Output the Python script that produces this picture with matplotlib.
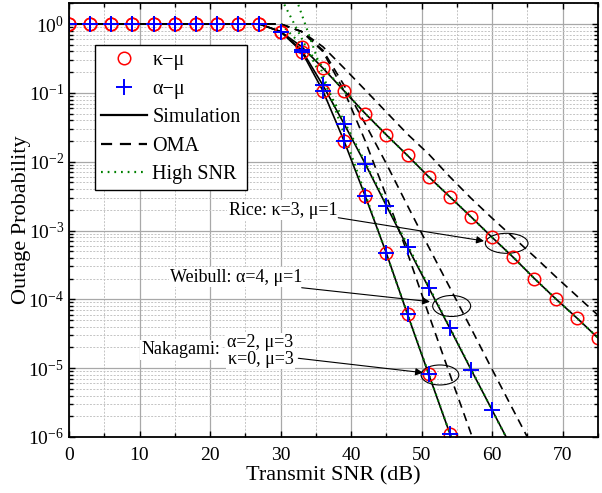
import numpy as np
import matplotlib
matplotlib.use("Agg")
import matplotlib.pyplot as plt
from matplotlib.lines import Line2D
from matplotlib.patches import Ellipse
from matplotlib.ticker import LogLocator, MultipleLocator

plt.rcParams['font.family'] = ['Liberation Serif', 'DejaVu Serif']
plt.rcParams['mathtext.fontset'] = 'custom'
plt.rcParams['mathtext.rm'] = 'Liberation Serif'
plt.rcParams['mathtext.it'] = 'Liberation Serif:italic'
plt.rcParams['axes.unicode_minus'] = False

# Transmit SNR (dB), every 3 dB
snr = np.arange(0, 76, 3)
flat = [1.0] * 10  # 0..27 dB

# NOMA simulation / analysis
rice = flat + [0.776, 0.468, 0.229, 0.107, 0.0501, 0.0245, 0.0123, 6.03e-3, 3.09e-3,
               1.58e-3, 7.94e-4, 4.07e-4, 2.00e-4, 1.02e-4, 5.37e-5, 2.75e-5]
weibull = flat + [0.776, 0.417, 0.129, 0.0355, 9.33e-3, 2.29e-3, 5.75e-4, 1.48e-4,
                  3.80e-5, 9.55e-6, 2.45e-6, 6.3e-7]
nakagami = flat + [0.776, 0.398, 0.107, 0.0200, 3.16e-3, 4.68e-4, 6.03e-5, 8.13e-6,
                   1.12e-6, 1.5e-7]

# OMA
rice_oma = flat + [1.0, 0.776, 0.468, 0.229, 0.110, 0.0525, 0.0251, 0.0129, 6.03e-3,
                   2.95e-3, 1.51e-3, 7.94e-4, 4.17e-4, 2.14e-4, 1.12e-4, 5.89e-5]
weibull_oma = flat + [1.0, 0.776, 0.417, 0.129, 0.0355, 9.33e-3, 2.29e-3, 5.75e-4,
                      1.48e-4, 3.80e-5, 9.55e-6, 2.45e-6, 6.3e-7]
nakagami_oma = flat + [1.0, 0.776, 0.398, 0.107, 0.0200, 3.16e-3, 4.68e-4, 6.03e-5,
                       8.13e-6, 1.12e-6, 1.5e-7]

# High SNR approximations, from 30 dB
snr_hi = np.arange(30, 76, 3)
rice_hi = [1.0, 0.50, 0.24, 0.107, 0.0501, 0.0245, 0.0123, 6.03e-3, 3.09e-3, 1.58e-3,
           7.94e-4, 4.07e-4, 2.00e-4, 1.02e-4, 5.37e-5, 2.75e-5]
weibull_hi = [2.45, 0.617, 0.155, 0.0389, 9.77e-3, 2.45e-3, 6.17e-4, 1.55e-4, 3.89e-5,
              9.77e-6, 2.45e-6, 6.2e-7]
nakagami_hi = [10.2, 1.38, 0.186, 0.0251, 3.39e-3, 4.57e-4, 6.17e-5, 8.32e-6, 1.12e-6,
               1.5e-7]

fig = plt.figure(figsize=(6.02, 4.93), dpi=100)
ax = fig.add_axes([0.1146, 0.1136, 0.8787, 0.8797])

lw = 1.2
for y in (rice_oma, weibull_oma, nakagami_oma):
    ax.plot(snr[:len(y)], y, color='k', lw=lw, dashes=(5, 3.5))
for y in (rice, weibull, nakagami):
    ax.plot(snr[:len(y)], y, color='k', lw=lw)
for y in (rice_hi, weibull_hi, nakagami_hi):
    ax.plot(snr_hi[:len(y)], y, color='#008000', lw=1.5, dashes=(0.8, 2.2))

mk_c = dict(ls='none', marker='o', ms=9, mfc='none', mec='red', mew=1.1)
mk_p = dict(ls='none', marker='+', ms=11, mec='blue', mew=1.4)
ax.plot(snr[:len(rice)], rice, **mk_c)
ax.plot(snr[:len(nakagami)], nakagami, **mk_c)
ax.plot(snr[:len(weibull)], weibull, **mk_p)
ax.plot(snr[:len(nakagami)], nakagami, **mk_p)

ax.set_yscale('log')
ax.set_xlim(0, 75)
ax.set_ylim(1e-6, 2)
ax.xaxis.set_major_locator(MultipleLocator(10))
ax.xaxis.set_minor_locator(MultipleLocator(5))
ax.yaxis.set_major_locator(LogLocator(base=10, numticks=10))
ax.yaxis.set_minor_locator(LogLocator(base=10, subs=np.arange(2, 10), numticks=10))

ax.grid(True, which='major', color='#a8a8a8', lw=0.9, ls='-')
ax.grid(True, which='minor', color='#c4c4c4', lw=0.7, ls=(0, (2, 1.5)))
ax.set_axisbelow(True)
ax.tick_params(which='both', direction='in', top=True, right=True, labelsize=14)
ax.tick_params(which='major', length=4, width=1)
ax.tick_params(which='minor', length=3, width=1)
ax.tick_params(axis='x', which='both', pad=7.5)
for s in ax.spines.values():
    s.set_linewidth(1.3)

ax.set_xlabel('Transmit SNR (dB)', fontsize=16, labelpad=1)
ax.set_ylabel('Outage Probability', fontsize=16, labelpad=-2)

handles = [
    Line2D([], [], **mk_c),
    Line2D([], [], **mk_p),
    Line2D([], [], color='k', lw=1.6),
    Line2D([], [], color='k', lw=1.6, dashes=(5, 3.5)),
    Line2D([], [], color='#008000', lw=1.6, dashes=(0.8, 2.2)),
]
labels = ['κ−μ', 'α−μ', 'Simulation', 'OMA', 'High SNR']
leg = ax.legend(handles, labels, loc='upper left', bbox_to_anchor=(0.049, 0.904),
                fontsize=14.5, frameon=True, fancybox=False, edgecolor='k',
                framealpha=1, handlelength=2.3, borderpad=0.3, labelspacing=0.47,
                handletextpad=0.25, borderaxespad=0)
leg.get_frame().set_linewidth(1.0)

box = dict(facecolor='white', edgecolor='none', pad=1)
arrow = dict(arrowstyle='-|>', color='k', lw=0.8, mutation_scale=11,
             shrinkA=0, shrinkB=0)

# Rice
ax.text(0.4045, 0.5234, 'Rice: κ=3, μ=1', transform=ax.transAxes, fontsize=13,
        ha='center', va='center', bbox=box)
ax.annotate('', xy=(0.7845, 0.4519), xytext=(0.5091, 0.5056),
            xycoords='axes fraction', textcoords='axes fraction', arrowprops=arrow)
ax.add_patch(Ellipse((0.8274, 0.4466), 0.0807, 0.0461, transform=ax.transAxes,
                     fill=False, ec='k', lw=0.8))

# Weibull
ax.text(0.3166, 0.3689, 'Weibull: α=4, μ=1', transform=ax.transAxes, fontsize=13,
        ha='center', va='center', bbox=box)
ax.annotate('', xy=(0.6824, 0.3120), xytext=(0.4399, 0.3442),
            xycoords='axes fraction', textcoords='axes fraction', arrowprops=arrow)
ax.add_patch(Ellipse((0.7234, 0.3021), 0.0718, 0.0484, transform=ax.transAxes,
                     fill=False, ec='k', lw=0.8))

# Nakagami
ax.text(0.2854, 0.2006, 'Nakagami:', transform=ax.transAxes, fontsize=13,
        ha='right', va='center', bbox=box)
ax.text(0.3620, 0.1983, 'α=2, μ=3\nκ=0, μ=3', transform=ax.transAxes, fontsize=13,
        ha='center', va='center', linespacing=1.0, bbox=box)
ax.annotate('', xy=(0.6692, 0.1483), xytext=(0.4335, 0.1815),
            xycoords='axes fraction', textcoords='axes fraction', arrowprops=arrow)
ax.add_patch(Ellipse((0.7013, 0.1430), 0.0713, 0.0461, transform=ax.transAxes,
                     fill=False, ec='k', lw=0.8))

fig.savefig('out.png', dpi=100)
